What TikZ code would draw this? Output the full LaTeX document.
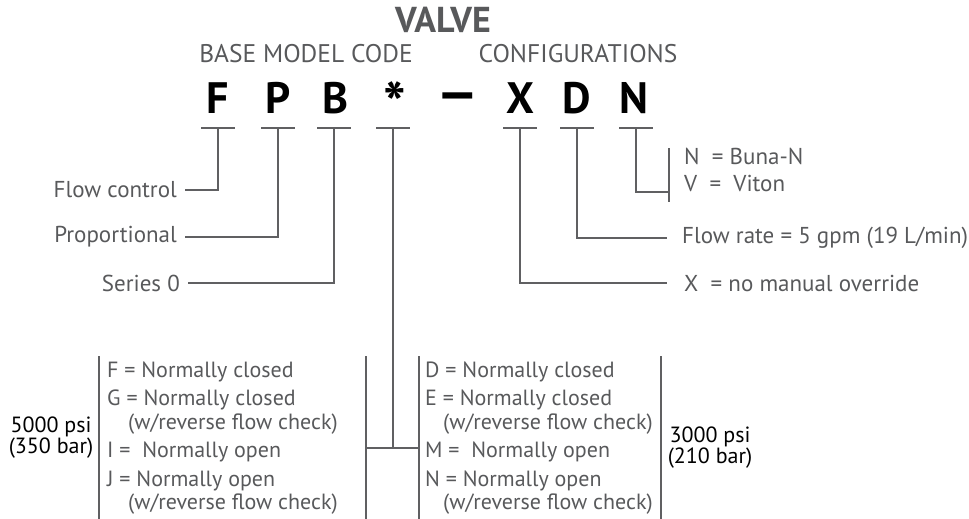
\documentclass[tikz,border=0pt]{standalone}
\usepackage{fontspec}
\setmainfont{PT Sans}
\definecolor{txtgray}{HTML}{58595B}
\definecolor{linegray}{HTML}{606062}

\tikzset{
	code/.style={font=\fontsize{44}{44}\selectfont\bfseries, text=black, anchor=base, inner sep=0pt},
	head/.style={font=\fontsize{25.5}{28}\selectfont, text=txtgray, anchor=base, inner sep=0pt},
	lbl/.style={font=\fontsize{23}{26}\selectfont, text=txtgray, inner ysep=0pt},
	opt/.style={font=\fontsize{22}{24}\selectfont, text=txtgray, anchor=base west, inner sep=0pt},
	psi/.style={font=\fontsize{22}{21}\selectfont, text=black, align=center, inner sep=0pt},
	link/.style={draw=linegray, line width=2.6pt},
}

\begin{document}
\begin{tikzpicture}[x=1pt, y=-1pt]
	
	\useasboundingbox (0,0) rectangle (969,519);
	
	% headings
	\node[head, font=\fontsize{36}{36}\selectfont\bfseries] (valve) at (443,33) {VALVE};
	\node[head] (base) at (306,63) {BASE MODEL CODE};
	\node[head] (conf) at (578,63) {CONFIGURATIONS};
	
	% model code
	\node[code] (F) at (218,113) {F};
	\node[code] (P) at (278,113) {P};
	\node[code] (B) at (335,113) {B};
	\node[code, font=\fontsize{60}{60}\selectfont\bfseries, anchor=north] (S) at (395,81) {*};
	\node[code, font=\fontsize{54}{54}\selectfont\bfseries, anchor=center] (dash) at (458,102) {\scalebox{1.25}[1]{--}};
	\node[code] (X) at (520,113) {X};
	\node[code] (D) at (577,113) {D};
	\node[code] (N) at (634,113) {N};
	
	\coordinate (tF) at (218,128);
	\coordinate (tP) at (278,128);
	\coordinate (tB) at (334,128);
	\coordinate (tS) at (393,128);
	\coordinate (tX) at (520,128);
	\coordinate (tD) at (577,128);
	\coordinate (tN) at (636,128);
	
	\draw[link] ([xshift=-17pt]tF) -- ([xshift=17pt]tF);
	\draw[link] ([xshift=-17pt]tP) -- ([xshift=17pt]tP);
	\draw[link] ([xshift=-17pt]tB) -- ([xshift=17pt]tB);
	\draw[link] ([xshift=-17pt]tS) -- ([xshift=17pt]tS);
	\draw[link] ([xshift=-17pt]tX) -- ([xshift=17pt]tX);
	\draw[link] ([xshift=-17pt]tD) -- ([xshift=17pt]tD);
	\draw[link] ([xshift=-17pt]tN) -- ([xshift=17pt]tN);
	
	% base model labels
	\node[lbl, anchor=east, inner xsep=8pt] (flow) at (185,190) {Flow control};
	\node[lbl, anchor=east, inner xsep=8pt] (prop) at (185,237) {Proportional};
	\node[lbl, anchor=east, inner xsep=8pt] (series) at (188,283) {Series 0};
	\draw[link] (tF) |- (flow);
	\draw[link] (tP) |- (prop);
	\draw[link] (tB) |- (series);
	
	% configuration labels
	\node[lbl, anchor=west, inner xsep=15pt] (rate) at (667,238) {Flow rate = 5 gpm (19 L/min)};
	\node[lbl, anchor=west, inner xsep=17pt] (manual) at (667,283) {X\ \ = no manual override};
	\draw[link] (tX) |- (manual);
	\draw[link] (tD) |- (rate);
	
	\coordinate (sealTop) at (669,148);
	\coordinate (sealMid) at (669,192);
	\coordinate (sealBot) at (669,202);
	\draw[link] (sealTop) -- (sealBot);
	\draw[link] (tN) |- (sealMid);
	\node[lbl, anchor=base west, inner sep=0pt] (buna) at (684,164) {N\ \ = Buna-N};
	\node[lbl, anchor=base west, inner sep=0pt] (viton) at (684,191) {V\ \ =\ \ Viton};
	
	% option groups
	\coordinate (hiTop) at (99,356);
	\coordinate (hiBot) at (99,519);
	\coordinate (hiR) at (366,356);
	\coordinate (hiRb) at (366,519);
	\coordinate (loL) at (419,356);
	\coordinate (loLb) at (419,519);
	\coordinate (loR) at (661,356);
	\coordinate (loRb) at (661,519);
	\draw[link] (hiTop) -- (hiBot);
	\draw[link] (hiR) -- (hiRb);
	\draw[link] (loL) -- (loLb);
	\draw[link] (loR) -- (loRb);
	\coordinate (hiJ) at (366,448);
	\coordinate (loJ) at (419,448);
	\coordinate (join) at (393,448);
	\draw[link] (hiJ) -- (loJ);
	\draw[link] (tS) -- (join);
	
	\node[opt] (optF) at (107,377) {F = Normally closed};
	\node[opt] (optG) at (107,405) {G = Normally closed};
	\node[opt] (optGr) at (128,429) {(w/reverse flow check)};
	\node[opt] (optI) at (107,457) {I =\ \ Normally open};
	\node[opt] (optJ) at (107,486) {J = Normally open};
	\node[opt] (optJr) at (128,509) {(w/reverse flow check)};
	
	\node[opt] (optD) at (425,377) {D = Normally closed};
	\node[opt] (optE) at (425,405) {E = Normally closed};
	\node[opt] (optEr) at (443,429) {(w/reverse flow check)};
	\node[opt] (optM) at (425,457) {M =\ \ Normally open};
	\node[opt] (optN) at (425,486) {N = Normally open};
	\node[opt] (optNr) at (443,509) {(w/reverse flow check)};
	
	\node[psi] (hiPsi) at (51,438) {5000 psi\\(350 bar)};
	\node[psi] (loPsi) at (710,448) {3000 psi\\(210 bar)};
	
\end{tikzpicture}
\end{document}
